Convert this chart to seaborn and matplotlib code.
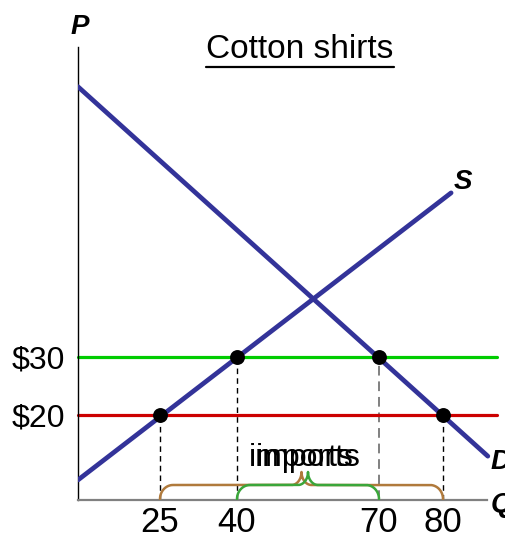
import numpy as np
import pandas as pd
import matplotlib
matplotlib.use("Agg")
import matplotlib.pyplot as plt
import seaborn as sns

# ---- data -------------------------------------------------------------
quantity_ticks = [25, 40, 70, 80]
quantity_labels = ["25", "40", "70", "80"]
price_ticks = [20, 30]
price_labels = ["$20", "$30"]

world_price = 20      # free-trade price
tariff_price = 30     # price with tariff

supply_q = [0, 81.5]
supply_p = [8.8, 58.3]
demand_q = [0, 88.3]
demand_p = [76.6, 12.9]

dot_q = [25, 40, 70, 80]
dot_p = [20, 30, 30, 20]

# ---- figure -----------------------------------------------------------
W, H = 506, 536
sns.set_theme(style="white")
plt.rcParams["font.family"] = ["Liberation Sans", "DejaVu Sans"]
plt.rcParams["text.color"] = "black"

fig = plt.figure(figsize=(W / 100, H / 100), dpi=100)
ax = fig.add_axes([78 / W, 36 / H, 419 / W, 453 / H])

# schematic (non-uniform) quantity axis
XQ = [0, 25, 40, 70, 80, 90]
XS = [0, 82, 159, 301, 365, 419]
fwd = lambda q: np.interp(q, XQ, XS)
inv = lambda s: np.interp(s, XS, XQ)
ax.set_xscale("function", functions=(fwd, inv))
ax.set_xlim(0, 90)
ax.set_ylim(5.345, 83.45)

blue = "#333399"
curves = pd.DataFrame({
    "Q": supply_q + demand_q,
    "P": supply_p + demand_p,
    "curve": ["S", "S", "D", "D"],
})
sns.lineplot(data=curves, x="Q", y="P", hue="curve", palette=[blue, blue],
             lw=3.4, legend=False, ax=ax, zorder=3, sort=False)

ax.axhline(tariff_price, color="#00cc00", lw=2.3, zorder=2, clip_on=False)
ax.axhline(world_price, color="#cc0000", lw=2.3, zorder=2, clip_on=False)

# dashed drop lines to the quantity axis
ylo = ax.get_ylim()[0]
for q, p in zip(dot_q, dot_p):
    if q == 70:
        ax.plot([q, q], [ylo, p], color="#808080", lw=1.4,
                ls=(0, (5, 3)), zorder=1)
    else:
        ax.plot([q, q], [ylo, p], color="black", lw=1.0,
                ls=(0, (4, 3)), zorder=1)

sns.scatterplot(x=dot_q, y=dot_p, color="black", s=115, edgecolor="black",
                linewidth=0, zorder=5, ax=ax)

# axes styling
for side in ("top", "right"):
    ax.spines[side].set_visible(False)
ax.spines["left"].set_color("black")
ax.spines["left"].set_linewidth(1.0)
ax.spines["bottom"].set_color("#808080")
ax.spines["bottom"].set_linewidth(1.6)
ax.spines["bottom"].set_bounds(0, 88.15)

ax.set_xticks(quantity_ticks)
ax.set_xticklabels(quantity_labels, fontsize=25)
ax.set_yticks(price_ticks)
ax.set_yticklabels(price_labels, fontsize=23)
ax.tick_params(axis="both", length=0, colors="black")
ax.tick_params(axis="x", pad=4.5)
ax.tick_params(axis="y", pad=9)
ax.minorticks_off()
ax.set_xlabel("")
ax.set_ylabel("")


# ---- curly braces marking the import quantities ------------------------
def brace(x0, x1, xt, base, h1, h2, r1, r2, n=40):
    t = np.linspace(0, np.pi / 2, n)
    # left end rising from the axis
    lx = x0 + r1 - r1 * np.cos(t)
    ly = base + h1 * np.sin(t)
    # curve up into the tip
    tx = xt - r2 + r2 * np.sin(t)
    ty = base + h1 + h2 - h2 * np.cos(t)
    # mirrored right half
    r_end_x = x1 - r1 + r1 * np.cos(t)
    r_end_y = base + h1 * np.sin(t)
    r_tip_x = xt + r2 - r2 * np.sin(t)
    r_tip_y = base + h1 + h2 - h2 * np.cos(t)
    xs = np.concatenate([lx, tx, r_tip_x[::-1], r_end_x[::-1]])
    ys = np.concatenate([ly, ty, r_tip_y[::-1], r_end_y[::-1]])
    return xs, ys


def draw_brace(q0, q1, tip_px, color):
    tr = ax.transData
    p0 = tr.transform((q0, ylo))
    p1 = tr.transform((q1, ylo))
    base = p0[1] + 1
    xs, ys = brace(p0[0], p1[0], tip_px, base, 14, 13, 13, 10)
    pts = tr.inverted().transform(np.column_stack([xs, ys]))
    ax.plot(pts[:, 0], pts[:, 1], color=color, lw=1.8, zorder=4,
            solid_capstyle="round")


draw_brace(25, 80, 301.5, "#b07a3c")
draw_brace(40, 70, 308, "#3aa63a")


def fx(px):
    return px / W


def fy(py):
    return 1 - py / H


fig.text(fx(301.5), fy(466), "imports", fontsize=23, ha="center",
         va="baseline", color="black")
fig.text(fx(308), fy(466), "imports", fontsize=23, ha="center",
         va="baseline", color="black")

# axis letters and curve labels
fig.text(fx(80), fy(27), "P", fontsize=20, fontweight="bold",
         fontstyle="italic", ha="center", va="center", color="black")
fig.text(fx(463), fy(182), "S", fontsize=20, fontweight="bold",
         fontstyle="italic", ha="center", va="center", color="black")
fig.text(fx(491), fy(462), "D", fontsize=20, fontweight="bold",
         fontstyle="italic", ha="left", va="center", color="black")
fig.text(fx(491), fy(505), "Q", fontsize=20, fontweight="bold",
         fontstyle="italic", ha="left", va="center", color="black")

# underlined title
title = fig.text(fx(300), fy(50), "Cotton shirts", fontsize=24,
                 ha="center", va="center", color="black")
fig.canvas.draw()
bb = title.get_window_extent()
fig.add_artist(plt.Line2D([bb.x0 / W, bb.x1 / W], [fy(67), fy(67)],
                          transform=fig.transFigure, color="black", lw=1.6))

fig.savefig("out.png", dpi=100)
